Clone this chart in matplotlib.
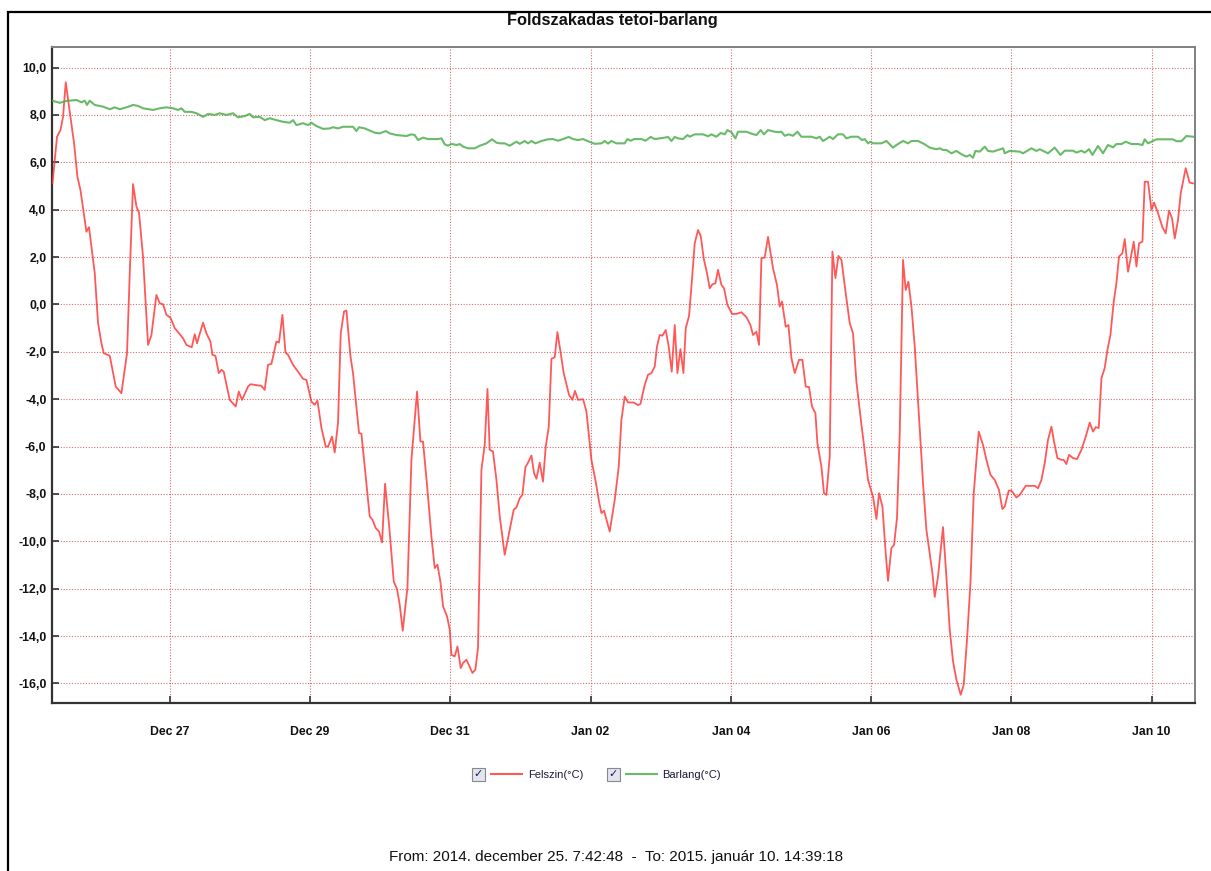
import numpy as np
import pandas as pd
import matplotlib
matplotlib.use("Agg")
import matplotlib.pyplot as pplt
from matplotlib.patches import Rectangle
from matplotlib.lines import Line2D
from matplotlib.ticker import FuncFormatter
import matplotlib.dates as mdates

# data: days since 2014-12-25 00:00 and temperature (°C)
felszin_days = [
    0.328, 0.393, 0.442, 0.479, 0.517, 0.574, 0.636, 0.684, 0.727, 0.812, 0.849, 0.931, 0.978, 1.026, 1.059,
    1.145, 1.230, 1.311, 1.391, 1.430, 1.477, 1.525, 1.562, 1.619, 1.691, 1.739, 1.810, 1.857, 1.904, 1.953,
    2.010, 2.071, 2.133, 2.190, 2.238, 2.314, 2.356, 2.389, 2.475, 2.523, 2.580, 2.609, 2.652, 2.699, 2.737,
    2.770, 2.855, 2.941, 2.984, 3.031, 3.116, 3.151, 3.307, 3.354, 3.401, 3.450, 3.521, 3.558, 3.607, 3.650,
    3.687, 3.758, 3.829, 3.900, 3.949, 4.020, 4.067, 4.106, 4.163, 4.224, 4.257, 4.314, 4.352, 4.399, 4.438,
    4.485, 4.519, 4.576, 4.613, 4.699, 4.733, 4.851, 4.890, 4.937, 4.984, 5.027, 5.070, 5.127, 5.194, 5.241,
    5.279, 5.322, 5.389, 5.446, 5.526, 5.574, 5.611, 5.668, 5.731, 5.778, 5.817, 5.859, 5.897, 5.954, 5.992,
    6.016, 6.063, 6.102, 6.149, 6.182, 6.230, 6.316, 6.358, 6.395, 6.444, 6.491, 6.530, 6.562, 6.609, 6.658,
    6.705, 6.776, 6.838, 6.904, 6.943, 6.990, 7.028, 7.071, 7.108, 7.157, 7.194, 7.228, 7.275, 7.322, 7.361,
    7.404, 7.442, 7.489, 7.527, 7.560, 7.617, 7.693, 7.741, 7.778, 7.821, 7.893, 7.941, 8.012, 8.069, 8.121,
    8.155, 8.192, 8.273, 8.345, 8.402, 8.440, 8.487, 8.534, 8.615, 8.677, 8.711, 8.772, 8.819, 8.868, 8.915,
    8.947, 8.986, 9.025, 9.072, 9.114, 9.157, 9.200, 9.238, 9.281, 9.324, 9.357, 9.404, 9.438, 9.485, 9.532,
    9.571, 9.613, 9.660, 9.699, 9.737, 9.780, 9.817, 9.866, 9.903, 9.951, 10.017, 10.080, 10.151, 10.222, 10.279,
    10.316, 10.365, 10.402, 10.436, 10.483, 10.530, 10.601, 10.658, 10.697, 10.730, 10.782, 10.821, 10.864, 10.911, 10.972,
    11.020, 11.068, 11.115, 11.157, 11.206, 11.234, 11.291, 11.328, 11.363, 11.410, 11.448, 11.491, 11.534, 11.577, 11.638,
    11.695, 11.742, 11.790, 11.862, 11.895, 11.956, 12.004, 12.027, 12.076, 12.113, 12.161, 12.208, 12.241, 12.289, 12.327,
    12.369, 12.408, 12.455, 12.493, 12.532, 12.575, 12.622, 12.683, 12.740, 12.788, 12.835, 12.874, 12.907, 12.954, 13.025,
    13.073, 13.121, 13.168, 13.216, 13.277, 13.320, 13.367, 13.416, 13.463, 13.534, 13.595, 13.644, 13.701, 13.762, 13.823,
    13.872, 13.905, 13.962, 14.000, 14.072, 14.119, 14.204, 14.333, 14.380, 14.428, 14.475, 14.522, 14.571, 14.608, 14.656,
    14.713, 14.746, 14.784, 14.822, 14.879, 14.936, 14.998, 15.060, 15.117, 15.164, 15.203, 15.245, 15.284, 15.330, 15.369,
    15.412, 15.459, 15.497, 15.534, 15.583, 15.616, 15.663, 15.701, 15.744, 15.783, 15.820, 15.868, 15.901, 15.948, 15.997,
    16.034, 16.091, 16.153, 16.200, 16.247, 16.290, 16.329, 16.376, 16.414, 16.485, 16.542, 16.589,
]
felszin_temp = [
    5.11, 7.08, 7.36, 7.92, 9.38, 8.13, 6.80, 5.39, 4.83, 3.07, 3.26, 1.32, -0.79, -1.64, -2.06,
    -2.17, -3.47, -3.75, -2.06, 1.32, 5.08, 4.13, 3.87, 2.02, -1.71, -1.29, 0.40, 0.05, 0.01, -0.44,
    -0.56, -1.00, -1.22, -1.43, -1.71, -1.81, -1.26, -1.64, -0.77, -1.22, -1.57, -2.13, -2.17, -2.90, -2.76,
    -2.84, -4.03, -4.31, -3.68, -4.03, -3.47, -3.37, -3.44, -3.61, -2.55, -2.51, -1.57, -1.61, -0.44, -2.03,
    -2.13, -2.55, -2.84, -3.14, -3.19, -4.10, -4.24, -4.06, -5.22, -6.00, -6.00, -5.58, -6.25, -5.01, -1.22,
    -0.30, -0.26, -2.17, -2.90, -5.43, -5.46, -8.95, -9.09, -9.44, -9.59, -10.05, -7.57, -9.30, -11.70, -12.02,
    -12.68, -13.78, -11.97, -6.56, -3.68, -5.79, -5.79, -7.62, -9.80, -11.13, -10.99, -11.70, -12.75, -13.17, -13.73,
    -14.79, -14.86, -14.44, -15.35, -15.14, -15.00, -15.56, -15.42, -14.51, -6.98, -5.93, -3.57, -6.14, -6.21, -7.41,
    -8.95, -10.57, -9.65, -8.67, -8.57, -8.18, -8.04, -6.87, -6.68, -6.38, -7.12, -7.36, -6.68, -7.48, -6.00,
    -5.16, -2.30, -2.23, -1.17, -1.78, -2.90, -3.82, -4.03, -3.65, -4.03, -4.00, -4.52, -6.56, -7.41, -8.32,
    -8.81, -8.71, -9.59, -8.25, -6.84, -4.87, -3.89, -4.14, -4.14, -4.25, -4.20, -3.40, -2.97, -2.90, -2.62,
    -1.78, -1.29, -1.32, -1.08, -1.78, -2.84, -0.87, -2.90, -1.89, -2.90, -1.00, -0.49, 0.75, 2.58, 3.14,
    2.89, 1.95, 1.32, 0.68, 0.85, 0.89, 1.46, 0.82, 0.68, -0.02, -0.40, -0.40, -0.33, -0.54, -0.87,
    -1.29, -1.15, -1.71, 1.95, 1.98, 2.85, 1.53, 0.82, -0.09, 0.12, -0.94, -0.87, -2.27, -2.90, -2.34,
    -2.34, -3.47, -3.49, -4.31, -4.59, -5.86, -6.84, -7.97, -8.04, -6.42, 2.23, 1.11, 2.05, 1.88, 0.47,
    -0.79, -1.22, -3.26, -5.08, -5.86, -7.41, -7.90, -8.11, -9.06, -7.97, -8.53, -10.50, -11.67, -10.29, -10.15,
    -9.02, -5.43, 1.88, 0.61, 0.96, -0.09, -1.78, -4.73, -7.54, -9.51, -10.50, -11.34, -12.35, -11.49, -9.40,
    -11.49, -13.73, -15.07, -15.84, -16.48, -16.06, -14.16, -11.76, -7.97, -5.37, -5.93, -6.56, -7.19, -7.41, -7.83,
    -8.64, -8.53, -7.86, -7.86, -8.15, -8.04, -7.66, -7.66, -7.76, -7.41, -6.70, -5.72, -5.16, -5.79, -6.49,
    -6.56, -6.56, -6.74, -6.35, -6.49, -6.53, -6.14, -5.58, -4.99, -5.37, -5.18, -5.22, -3.11, -2.69, -1.92,
    -1.29, 0.12, 0.89, 2.02, 2.16, 2.76, 1.38, 1.95, 2.65, 1.60, 2.58, 2.65, 5.18, 5.18, 3.99,
    4.30, 3.85, 3.26, 3.00, 3.96, 3.64, 2.79, 3.57, 4.69, 5.75, 5.14, 5.11,
]

barlang_days = [
    0.328, 0.432, 0.527, 0.670, 0.741, 0.788, 0.821, 0.859, 0.931, 1.049, 1.145, 1.216, 1.287, 1.383, 1.477,
    1.548, 1.619, 1.762, 1.857, 1.953, 2.047, 2.118, 2.167, 2.214, 2.309, 2.381, 2.475, 2.546, 2.642, 2.713,
    2.808, 2.902, 2.974, 3.069, 3.141, 3.188, 3.283, 3.354, 3.426, 3.521, 3.615, 3.711, 3.758, 3.806, 3.900,
    3.972, 4.020, 4.092, 4.186, 4.281, 4.328, 4.399, 4.471, 4.613, 4.662, 4.699, 4.780, 4.923, 4.994, 5.080,
    5.137, 5.232, 5.375, 5.446, 5.493, 5.540, 5.611, 5.683, 5.825, 5.874, 5.921, 5.968, 6.016, 6.088, 6.135,
    6.182, 6.253, 6.348, 6.420, 6.515, 6.595, 6.658, 6.705, 6.776, 6.847, 6.943, 6.990, 7.061, 7.108, 7.157,
    7.214, 7.299, 7.394, 7.465, 7.536, 7.607, 7.689, 7.750, 7.821, 7.893, 7.955, 8.059, 8.155, 8.202, 8.249,
    8.297, 8.369, 8.487, 8.525, 8.573, 8.620, 8.725, 8.782, 8.858, 8.915, 9.057, 9.104, 9.153, 9.200, 9.247,
    9.318, 9.381, 9.414, 9.485, 9.603, 9.675, 9.723, 9.794, 9.856, 9.913, 9.951, 10.008, 10.065, 10.102, 10.222,
    10.293, 10.365, 10.426, 10.473, 10.530, 10.626, 10.673, 10.721, 10.768, 10.825, 10.886, 10.949, 11.006, 11.100, 11.149,
    11.220, 11.267, 11.314, 11.410, 11.457, 11.528, 11.599, 11.648, 11.719, 11.813, 11.870, 11.909, 11.956, 11.990, 12.027,
    12.147, 12.218, 12.265, 12.312, 12.361, 12.455, 12.526, 12.575, 12.669, 12.764, 12.835, 12.931, 12.978, 13.025, 13.073,
    13.145, 13.216, 13.287, 13.359, 13.406, 13.453, 13.487, 13.548, 13.620, 13.667, 13.738, 13.809, 13.881, 13.905, 13.976,
    14.119, 14.166, 14.286, 14.357, 14.404, 14.522, 14.617, 14.699, 14.760, 14.879, 14.927, 14.998, 15.045, 15.107, 15.155,
    15.235, 15.306, 15.377, 15.449, 15.497, 15.569, 15.630, 15.711, 15.805, 15.868, 15.901, 15.948, 15.997, 16.068, 16.304,
    16.353, 16.424, 16.495, 16.589,
]
barlang_temp = [
    8.60, 8.51, 8.59, 8.63, 8.53, 8.60, 8.42, 8.60, 8.42, 8.35, 8.24, 8.32, 8.24, 8.32, 8.42,
    8.38, 8.28, 8.21, 8.28, 8.32, 8.28, 8.21, 8.28, 8.13, 8.13, 8.07, 7.92, 8.04, 8.00, 8.07,
    8.00, 8.07, 7.90, 7.95, 8.04, 7.90, 7.92, 7.78, 7.86, 7.78, 7.71, 7.67, 7.78, 7.57, 7.65,
    7.57, 7.67, 7.53, 7.41, 7.43, 7.48, 7.43, 7.50, 7.50, 7.32, 7.48, 7.43, 7.25, 7.22, 7.32,
    7.22, 7.15, 7.11, 7.18, 7.15, 6.94, 7.04, 6.98, 6.98, 7.01, 6.76, 6.70, 6.78, 6.73, 6.77,
    6.66, 6.59, 6.59, 6.70, 6.80, 6.97, 6.83, 6.80, 6.80, 6.70, 6.87, 6.78, 6.90, 6.80, 6.90,
    6.80, 6.90, 6.97, 6.98, 6.91, 6.98, 7.07, 6.98, 6.94, 6.98, 6.90, 6.78, 6.80, 6.90, 6.79,
    6.90, 6.80, 6.80, 6.98, 6.91, 6.98, 6.98, 6.91, 7.07, 6.98, 7.04, 7.07, 6.90, 7.07, 7.01,
    6.98, 7.15, 7.08, 7.18, 7.18, 7.10, 7.18, 7.08, 7.24, 7.18, 7.36, 7.27, 7.01, 7.29, 7.29,
    7.21, 7.15, 7.36, 7.18, 7.36, 7.29, 7.27, 7.29, 7.12, 7.18, 7.12, 7.29, 7.08, 7.08, 7.08,
    7.01, 7.08, 6.90, 7.08, 6.98, 7.18, 7.18, 7.01, 7.08, 7.08, 6.94, 6.98, 6.80, 6.87, 6.80,
    6.80, 6.90, 6.76, 6.62, 6.73, 6.90, 6.80, 6.90, 6.90, 6.76, 6.62, 6.55, 6.59, 6.52, 6.52,
    6.38, 6.48, 6.34, 6.24, 6.31, 6.19, 6.48, 6.45, 6.66, 6.48, 6.45, 6.52, 6.59, 6.38, 6.48,
    6.45, 6.38, 6.59, 6.48, 6.55, 6.38, 6.62, 6.31, 6.49, 6.49, 6.41, 6.49, 6.41, 6.55, 6.31,
    6.69, 6.38, 6.73, 6.63, 6.77, 6.77, 6.87, 6.77, 6.77, 6.73, 6.97, 6.80, 6.87, 6.97, 6.97,
    6.89, 6.89, 7.11, 7.08,
]

series_labels = ["Felszin(°C)", "Barlang(°C)"]
t_start = pd.Timestamp("2014-12-25 07:42:48")
t_end = pd.Timestamp("2015-01-10 14:39:18")
day0 = pd.Timestamp("2014-12-25")

W, H = 1211, 871
FONT = ["Liberation Sans", "DejaVu Sans"]
pplt.rcParams["font.family"] = FONT

t_f = day0 + pd.to_timedelta(np.array(felszin_days), unit="D")
t_b = day0 + pd.to_timedelta(np.array(barlang_days), unit="D")

fig = pplt.figure(figsize=(W / 100, H / 100), dpi=100)
fig.patch.set_facecolor("white")
ax = fig.add_axes([52 / W, 1 - 703.3 / H, (1194.5 - 52) / W, (703.3 - 46.7) / H])

red = "#ff3b3b"
green = "#4fae4f"
ax.plot(t_f, felszin_temp, color=red, lw=1.3, alpha=0.85, zorder=3)
ax.plot(t_b, barlang_temp, color=green, lw=1.5, alpha=0.85, zorder=3)

ax.set_xlim(t_start, t_end)
ax.set_ylim(-16.84, 10.88)

xt = pd.date_range("2014-12-27", periods=8, freq="2D")
ax.set_xticks(xt)
ax.xaxis.set_major_formatter(mdates.DateFormatter("%b %d"))
ax.set_yticks(np.arange(-16, 11, 2))
ax.yaxis.set_major_formatter(FuncFormatter(lambda v, p: ("%.1f" % v).replace(".", ",")))

ax.grid(True, color="#c05050", linestyle=(0, (1, 1.5)), linewidth=0.8, alpha=0.8)
ax.tick_params(axis="both", direction="in", length=5, width=1.2, color="#333333",
               labelsize=8.8, labelcolor="#111111")
ax.tick_params(axis="x", pad=16)
ax.tick_params(axis="y", pad=4)
for lab in ax.get_xticklabels() + ax.get_yticklabels():
    lab.set_fontweight("bold")

for s in ["left", "bottom"]:
    ax.spines[s].set_color("#333333")
    ax.spines[s].set_linewidth(1.6)
for s in ["top", "right"]:
    ax.spines[s].set_color("#808080")
    ax.spines[s].set_linewidth(1.4)

# title
fig.text(612 / W, 1 - 20 / H, "Foldszakadas tetoi-barlang", ha="center", va="center",
         fontsize=11.8, fontweight="bold", color="#111111")

# outer frame (top and left edges visible)
fig.add_artist(Rectangle((8 / W, -0.1), 1.2, 1 - 12 / H + 0.1, transform=fig.transFigure,
                         fill=False, edgecolor="black", linewidth=1.6, clip_on=False))

# legend with checkboxes
def fx(x):
    return x / W

def fy(y):
    return 1 - y / H

ly = 774
items = [(472, 491, 522, 528, red), (607, 626, 657, 662, green)]
for (bx, l0, l1, tx, col), lab in zip(items, series_labels):
    fig.add_artist(Rectangle((fx(bx), fy(ly + 6.5)), 13 / W, 13 / H, transform=fig.transFigure,
                             facecolor="#e4e4ee", edgecolor="#888888", linewidth=0.8))
    fig.text(fx(bx + 6.5), fy(ly), "\u2713", ha="center", va="center", fontsize=8,
             color="#1a1a6e", fontweight="bold", family=["DejaVu Sans"])
    fig.add_artist(Line2D([fx(l0), fx(l1)], [fy(ly), fy(ly)], transform=fig.transFigure,
                          color=col, lw=1.5, alpha=0.85))
    fig.text(fx(tx), fy(ly + 1), lab, ha="left", va="center", fontsize=8, color="#1a1a3a")

fig.text(616 / W, 1 - 857 / H,
         "From: 2014. december 25. 7:42:48  -  To: 2015. január 10. 14:39:18",
         ha="center", va="center", fontsize=11, color="#111111")

fig.savefig("out.png", dpi=100, facecolor="white")
